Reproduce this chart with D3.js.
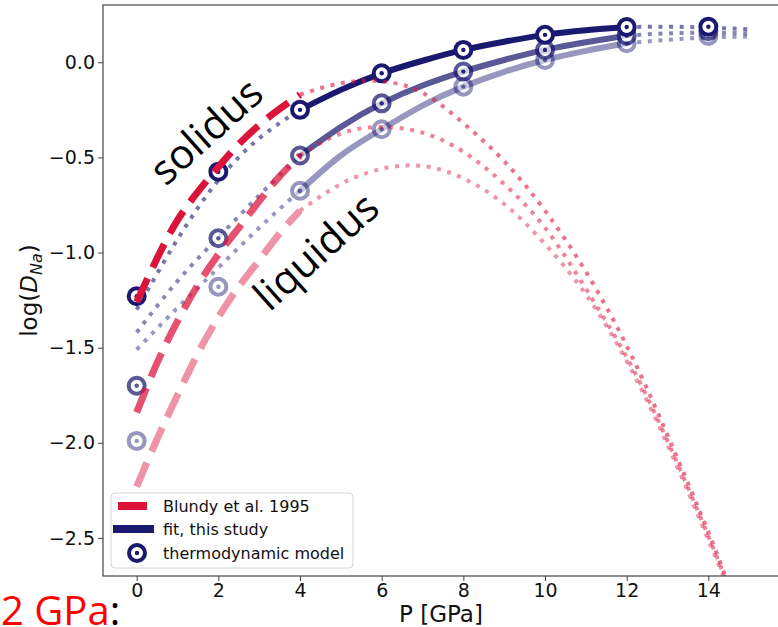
<!DOCTYPE html>
<html><head><meta charset="utf-8">
<script src="https://cdn.jsdelivr.net/npm/d3@7"></script>
<style>
html,body{margin:0;padding:0;background:#fff;overflow:hidden;}
svg{display:block;}
</style></head>
<body>
<svg id="chart" width="778" height="627"></svg>
<script>
// ---------------- data ----------------
const xTicks = [0, 2, 4, 6, 8, 10, 12, 14];
const yTicks = [-2.5, -2.0, -1.5, -1.0, -0.5, 0.0];

// thermodynamic model points
const P_model = [0, 2, 4, 6, 8, 10, 12, 14];
const model1 = [-1.23, -0.575, -0.25, -0.058, 0.065, 0.144, 0.185, 0.187];
const model2 = [-1.70, -0.925, -0.49, -0.216, -0.049, 0.065, 0.14, 0.163];
const model3 = [-1.99, -1.18, -0.675, -0.352, -0.128, 0.012, 0.10, 0.138];

// fit, this study (solid part 4–12 GPa)
const P_fit = [4, 5, 6, 7, 8, 9, 10, 11, 12];
const fit1 = [-0.25, -0.145, -0.058, 0.008, 0.065, 0.108, 0.144, 0.168, 0.185];
const fit2 = [-0.49, -0.34, -0.216, -0.122, -0.049, 0.012, 0.065, 0.105, 0.14];
const fit3 = [-0.675, -0.49, -0.352, -0.228, -0.128, -0.05, 0.012, 0.06, 0.10];

// fit extrapolations (dotted)
const P_fitLow = [0, 1, 2, 3, 4];
const fitLow1 = [-1.30, -0.93, -0.62, -0.40, -0.25];
const fitLow2 = [-1.42, -1.15, -0.92, -0.70, -0.49];
const fitLow3 = [-1.51, -1.29, -1.08, -0.87, -0.675];
const P_fitHigh = [12, 13, 14, 15];
const fitHigh1 = [0.185, 0.187, 0.182, 0.173];
const fitHigh2 = [0.14, 0.152, 0.155, 0.152];
const fitHigh3 = [0.10, 0.118, 0.13, 0.135];

// Blundy et al. 1995 (dashed 0–4 GPa)
const P_blDash = [0, 0.5, 1, 1.5, 2, 2.5, 3, 3.5, 4];
const blDash1 = [-1.26, -1.03, -0.83, -0.68, -0.55, -0.43, -0.33, -0.245, -0.17];
const blDash2 = [-1.84, -1.58, -1.36, -1.17, -1.01, -0.87, -0.73, -0.60, -0.49];
const blDash3 = [-2.23, -1.98, -1.75, -1.53, -1.34, -1.18, -1.04, -0.90, -0.78];
// Blundy et al. 1995 extrapolation (dotted)
const P_blDot = [4, 5, 6, 7, 8, 9, 10, 11, 12, 13, 14, 14.5];
const blDot1 = [-0.17, -0.11, -0.10, -0.16, -0.32, -0.52, -0.78, -1.10, -1.49, -1.96, -2.47, -2.75];
const blDot2 = [-0.49, -0.375, -0.34, -0.37, -0.47, -0.64, -0.87, -1.19, -1.55, -1.99, -2.49, -2.76];
const blDot3 = [-0.78, -0.64, -0.56, -0.545, -0.61, -0.745, -0.955, -1.22, -1.57, -2.01, -2.51, -2.77];

const legendLabels = ["Blundy et al. 1995", "fit, this study", "thermodynamic model"];

// ---------------- drawing ----------------
const NAVY = "#191970", CRIMSON = "#DC143C";
const pL = 103, pR = 780, pT = 5, pB = 576;
const svg = d3.select("#chart");
const x = d3.scaleLinear().domain([-0.825, 15.755]).range([pL, pR]);
const y = d3.scaleLinear().domain([-2.70, 0.301]).range([pB, pT]);

svg.append("defs").append("clipPath").attr("id", "clip")
  .append("rect").attr("x", pL).attr("y", pT).attr("width", pR - pL).attr("height", pB - pT);

const plot = svg.append("g").attr("clip-path", "url(#clip)");
const line = d3.line().x(d => x(d[0])).y(d => y(d[1])).curve(d3.curveNatural);
const zip = (a, b) => a.map((v, i) => [v, b[i]]);

const seriesAlpha = [1, 0.72, 0.45];

// navy dotted extrapolations
const navyDotAlpha = [0.6, 0.52, 0.45];
[[fitLow1, fitHigh1], [fitLow2, fitHigh2], [fitLow3, fitHigh3]].forEach((pair, i) => {
  plot.append("path").attr("d", line(zip(P_fitLow, pair[0])))
    .attr("fill", "none").attr("stroke", NAVY).attr("stroke-opacity", navyDotAlpha[i])
    .attr("stroke-width", 4).attr("stroke-dasharray", "4,6.6");
  plot.append("path").attr("d", line(zip(P_fitHigh, pair[1])))
    .attr("fill", "none").attr("stroke", NAVY).attr("stroke-opacity", navyDotAlpha[i])
    .attr("stroke-width", 4).attr("stroke-dasharray", "4,6.6");
});

// navy solid fits (draw light first)
[fit3, fit2, fit1].forEach((f, k) => {
  const i = 2 - k;
  plot.append("path").attr("d", line(zip(P_fit, f)))
    .attr("fill", "none").attr("stroke", NAVY).attr("stroke-opacity", seriesAlpha[i])
    .attr("stroke-width", 6).attr("stroke-linecap", "round");
});

function marker(g, cx, cy, alpha) {
  const m = g.append("g").attr("opacity", alpha);
  m.append("circle").attr("cx", cx).attr("cy", cy).attr("r", 8)
    .attr("fill", "#fff").attr("stroke", NAVY).attr("stroke-width", 4);
  m.append("circle").attr("cx", cx).attr("cy", cy).attr("r", 2.2).attr("fill", NAVY);
}
[model3, model2, model1].forEach((m, k) => {
  const i = 2 - k;
  m.forEach((v, j) => marker(plot, x(P_model[j]), y(v), seriesAlpha[i]));
});

// Blundy dotted then dashed
const redDotAlpha = [0.6, 0.52, 0.45];
const redDashAlpha = [1, 0.74, 0.46];
[blDot3, blDot2, blDot1].forEach((b, k) => {
  const i = 2 - k;
  plot.append("path").attr("d", line(zip(P_blDot, b)))
    .attr("fill", "none").attr("stroke", CRIMSON).attr("stroke-opacity", redDotAlpha[i])
    .attr("stroke-width", 4).attr("stroke-dasharray", "4,6.6");
});
[blDash3, blDash2, blDash1].forEach((b, k) => {
  const i = 2 - k;
  plot.append("path").attr("d", line(zip(P_blDash, b)))
    .attr("fill", "none").attr("stroke", CRIMSON).attr("stroke-opacity", redDashAlpha[i])
    .attr("stroke-width", 7).attr("stroke-dasharray", "26,12");
});

// frame
svg.append("rect").attr("x", pL).attr("y", pT).attr("width", pR - pL).attr("height", pB - pT)
  .attr("fill", "none").attr("stroke", "#444").attr("stroke-width", 1.2);

// axes
const fmtY = d => (d < 0 ? "\u2212" : "") + Math.abs(d).toFixed(1);
const xAxis = svg.append("g").attr("transform", `translate(0,${pB})`)
  .call(d3.axisBottom(x).tickValues(xTicks).tickSize(5).tickPadding(2.5).tickFormat(d3.format("d")));
const yAxis = svg.append("g").attr("transform", `translate(${pL},0)`)
  .call(d3.axisLeft(y).tickValues(yTicks).tickSize(5).tickPadding(3).tickFormat(fmtY));
[xAxis, yAxis].forEach(a => {
  a.select(".domain").remove();
  a.selectAll("line").attr("stroke", "#444");
  a.selectAll("text").attr("font-family", "DejaVu Sans").attr("font-size", 19).attr("fill", "#111");
});

// axis labels
svg.append("text").attr("x", 441).attr("y", 622).attr("text-anchor", "middle")
  .attr("font-family", "DejaVu Sans").attr("font-size", 23).attr("fill", "#111").text("P [GPa]");
const yl = svg.append("text").attr("transform", "translate(37,290.5) rotate(-90)")
  .attr("text-anchor", "middle").attr("font-family", "DejaVu Sans").attr("font-size", 23).attr("fill", "#111");
yl.append("tspan").text("log(");
yl.append("tspan").attr("font-style", "italic").text("D");
yl.append("tspan").attr("font-style", "italic").attr("font-size", 16).attr("dy", 5).text("Na");
yl.append("tspan").attr("dy", -5).text(")");

// annotations
svg.append("text").attr("transform", "translate(205,130) rotate(-42)")
  .attr("text-anchor", "middle").attr("dominant-baseline", "central")
  .attr("font-family", "Open Sans").attr("font-size", 41).attr("fill", "#000").text("solidus");
svg.append("text").attr("transform", "translate(315,250) rotate(-42)")
  .attr("text-anchor", "middle").attr("dominant-baseline", "central")
  .attr("font-family", "Open Sans").attr("font-size", 41).attr("fill", "#000").text("liquidus");

// legend
const lg = svg.append("g");
lg.append("rect").attr("x", 111).attr("y", 493).attr("width", 242).attr("height", 75).attr("rx", 4)
  .attr("fill", "#fff").attr("fill-opacity", 0.85).attr("stroke", "#d5d5d5");
lg.append("line").attr("x1", 118).attr("x2", 147).attr("y1", 506).attr("y2", 506)
  .attr("stroke", CRIMSON).attr("stroke-width", 8);
lg.append("line").attr("x1", 113).attr("x2", 154).attr("y1", 529).attr("y2", 529)
  .attr("stroke", NAVY).attr("stroke-width", 8);
marker(lg, 137, 553, 1);
legendLabels.forEach((t, i) => {
  lg.append("text").attr("x", 163).attr("y", 506 + i * 23.5).attr("dy", "0.35em")
    .attr("font-family", "DejaVu Sans").attr("font-size", 16).attr("fill", "#111").text(t);
});

// bottom-left caption
const cap = svg.append("text").attr("x", 1).attr("y", 625)
  .attr("font-family", "Open Sans").attr("font-size", 40);
cap.append("tspan").attr("fill", "#ff0000").text("2 GPa");
cap.append("tspan").attr("fill", "#000").text(":");
</script>
</body></html>
